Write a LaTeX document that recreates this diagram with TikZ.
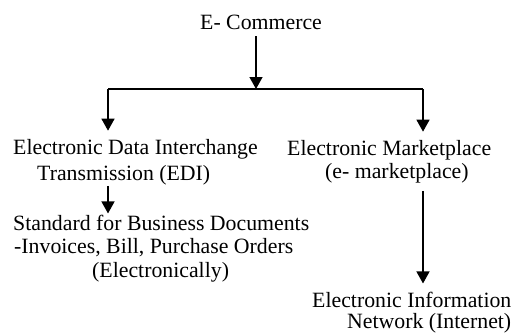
\documentclass[tikz,border=0pt]{standalone}
\usepackage{fontspec}
\setmainfont{Liberation Serif}
\usetikzlibrary{arrows.meta}
\begin{document}
\begin{tikzpicture}[x=1pt,y=-1pt,
  lbl/.style={inner sep=0pt, anchor=base west, font=\fontsize{21.8}{26}\selectfont},
  conn/.style={line width=1.4pt},
  arr/.style={conn, -{Triangle[width=13pt,length=12pt]}}]
\useasboundingbox (0,0) rectangle (513,332);
\node[lbl] (ec) at (200,29) {E- Commerce};
\node[lbl] (edi1) at (13,154) {Electronic Data Interchange};
\node[lbl] (edi2) at (37,180) {Transmission (EDI)};
\node[lbl] (em1) at (287,155) {Electronic Marketplace};
\node[lbl] (em2) at (325,178) {(e- marketplace)};
\node[lbl] (std1) at (13,230) {Standard for Business Documents};
\node[lbl] (std2) at (14,253) {-Invoices, Bill, Purchase Orders};
\node[lbl] (std3) at (92,277) {(Electronically)};
\node[lbl] (ein1) at (312,307) {Electronic Information};
\node[lbl] (ein2) at (347,328) {Network (Internet)};
\coordinate (j) at (256,89);
\coordinate (jl) at (108,89);
\coordinate (jr) at (423,89);
\draw[arr, shorten <=7pt] (ec.south -| j) -- (j);
\draw[conn] (jl) -- (jr);
\draw[arr, shorten >=8pt] (jl) -- (jl |- edi1.north);
\draw[arr, shorten >=8pt] (jr) -- (jr |- em1.north);
\draw[arr, shorten <=1pt, shorten >=1pt] (edi2.south -| jl) -- (jl |- std1.north);
\draw[arr, shorten <=8pt, shorten >=8pt] (em2.south -| jr) -- (jr |- ein1.north);
\end{tikzpicture}
\end{document}
